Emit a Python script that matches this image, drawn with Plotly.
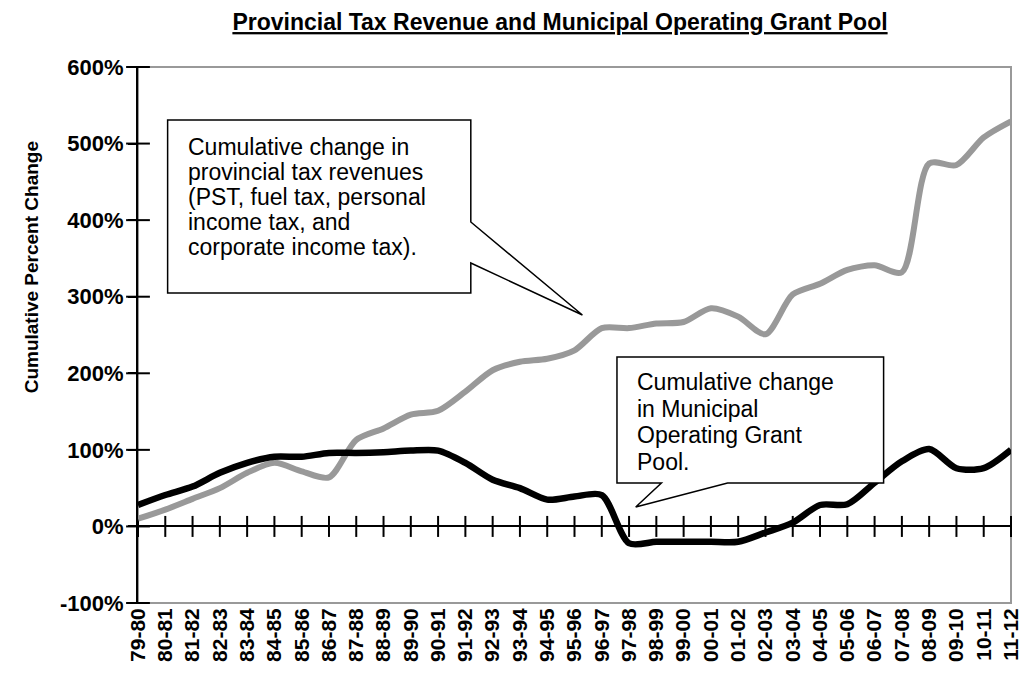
import plotly.graph_objects as go

# fiscal years on the x axis
years = ['79-80', '80-81', '81-82', '82-83', '83-84', '84-85', '85-86', '86-87',
         '87-88', '88-89', '89-90', '90-91', '91-92', '92-93', '93-94', '94-95',
         '95-96', '96-97', '97-98', '98-99', '99-00', '00-01', '01-02', '02-03',
         '03-04', '04-05', '05-06', '06-07', '07-08', '08-09', '09-10', '10-11',
         '11-12']

# cumulative % change
tax_revenue = [10, 22, 36, 50, 70, 83, 72, 64, 113, 128, 146, 151, 176, 204,
               215, 219, 230, 259, 259, 265, 267, 285, 274, 251, 303, 317, 335,
               341, 332, 474, 472, 508, 529]
grant_pool = [28, 41, 52, 70, 83, 91, 91, 96, 96, 97, 99, 99, 83, 61, 50, 35,
              39, 41, -22, -20, -20, -20, -20, -8, 5, 28, 29, 57, 85, 101, 76,
              76, 100]

y_range = [-100, 600]
y_ticks = [-100, 0, 100, 200, 300, 400, 500, 600]
y_labels = ['-100%', '0%', '100%', '200%', '300%', '400%', '500%', '600%']

tax_note = ['Cumulative change in', 'provincial tax revenues',
            '(PST, fuel tax, personal', 'income tax, and',
            'corporate income tax).']
grant_note = ['Cumulative change', 'in Municipal', 'Operating Grant', 'Pool.']

font_family = 'Liberation Sans, Arial, sans-serif'
gray_line = '#999999'
frame_color = '#999999'

# the page body adds 8px around the figure, so the figure is 8px smaller
fig_w, fig_h = 1025, 669
left, right, top, bottom = 130, 1014, 59, 595   # plot area in figure pixels


def px_x(x):
    # page pixel -> paper x
    return (x - 8 - left) / (right - left)


def px_y(y):
    # page pixel -> paper y
    return (bottom - (y - 8)) / (bottom - top)


fig = go.Figure()

# crossing tick marks on the zero line and on the y axis
fig.add_trace(go.Scatter(
    x=years, y=[0] * len(years),
    mode='markers',
    marker=dict(symbol='line-ns', size=15, line=dict(width=2, color='black')),
    hoverinfo='skip', showlegend=False, cliponaxis=False,
))
fig.add_trace(go.Scatter(
    x=[years[0]] * len(y_ticks), y=y_ticks,
    mode='markers',
    marker=dict(symbol='line-ew', size=17, line=dict(width=2, color='black')),
    hoverinfo='skip', showlegend=False, cliponaxis=False,
))

fig.add_trace(go.Scatter(
    x=years, y=tax_revenue,
    mode='lines',
    line=dict(color=gray_line, width=6, shape='spline', smoothing=0.8),
    hoverinfo='skip',
    showlegend=False,
))
fig.add_trace(go.Scatter(
    x=years, y=grant_pool,
    mode='lines',
    line=dict(color='black', width=6.5, shape='spline', smoothing=0.8),
    hoverinfo='skip',
    showlegend=False,
))

n = len(years) - 1

fig.update_layout(
    width=fig_w,
    height=fig_h,
    margin=dict(l=left, r=fig_w - right, t=top, b=fig_h - bottom),
    plot_bgcolor='white',
    paper_bgcolor='white',
    font=dict(family=font_family, color='black'),
    title=dict(
        text='Provincial Tax Revenue and Municipal Operating Grant Pool',
        font=dict(family=font_family, size=23, color='black',
                  weight='bold', lineposition='under'),
        xref='container', x=552 / fig_w, xanchor='center',
        yref='container', y=1 - 14 / fig_h, yanchor='middle',
    ),
    xaxis=dict(
        type='category', range=[0, n],
        tickangle=-90, tickfont=dict(size=21, weight='bold'),
        showline=False, showgrid=False, zeroline=False, ticks='',
    ),
    yaxis=dict(
        range=y_range, tickvals=y_ticks, ticktext=y_labels,
        tickfont=dict(size=22, weight='bold'),
        showline=True, linecolor='black', linewidth=2,
        ticks='outside', ticklen=8, tickwidth=2, tickcolor='black',
        showgrid=False,
        zeroline=True, zerolinecolor='black', zerolinewidth=2,
    ),
)

# plot frame (gray on top, right and bottom; the y axis covers the left)
fig.add_shape(type='rect', xref='paper', yref='paper', x0=0, y0=0, x1=1, y1=1,
              line=dict(color=frame_color, width=2), layer='below')

# callout for provincial tax revenues, tail pointing at the gray line
box_l, box_r, box_t, box_b = px_x(168), px_x(475), px_y(120), px_y(293)
fig.add_shape(
    type='path', xref='paper', yref='paper',
    path=(f'M {box_l} {box_t} L {box_r} {box_t} L {box_r} {px_y(222)} '
          f'L {px_x(588)} {px_y(315)} L {box_r} {px_y(263)} '
          f'L {box_r} {box_b} L {box_l} {box_b} Z'),
    line=dict(color='black', width=1.5), fillcolor='white', layer='above',
)
for i, line in enumerate(tax_note):
    fig.add_annotation(
        xref='paper', yref='paper', x=px_x(188), y=px_y(147 + 25 * i),
        xanchor='left', yanchor='middle', showarrow=False, borderpad=0,
        text=line, font=dict(size=23, color='black'),
    )

# callout for the municipal operating grant pool
box_l, box_r, box_t, box_b = px_x(623), px_x(893), px_y(357), px_y(483)
fig.add_shape(
    type='path', xref='paper', yref='paper',
    path=(f'M {box_l} {box_t} L {box_r} {box_t} L {box_r} {box_b} '
          f'L {px_x(735)} {box_b} L {px_x(642)} {px_y(507)} '
          f'L {px_x(668)} {box_b} L {box_l} {box_b} Z'),
    line=dict(color='black', width=1.5), fillcolor='white', layer='above',
)
for i, line in enumerate(grant_note):
    fig.add_annotation(
        xref='paper', yref='paper', x=px_x(642), y=px_y(382 + 26.7 * i),
        xanchor='left', yanchor='middle', showarrow=False, borderpad=0,
        text=line, font=dict(size=23, color='black'),
    )

# y axis title, placed as in the original (above the plot centre)
fig.add_annotation(
    xref='paper', yref='paper', x=px_x(30), y=px_y(267),
    xanchor='center', yanchor='middle', textangle=-90, showarrow=False,
    text='Cumulative Percent Change',
    font=dict(size=19, color='black', weight='bold'),
)

fig.write_html('out.html')
